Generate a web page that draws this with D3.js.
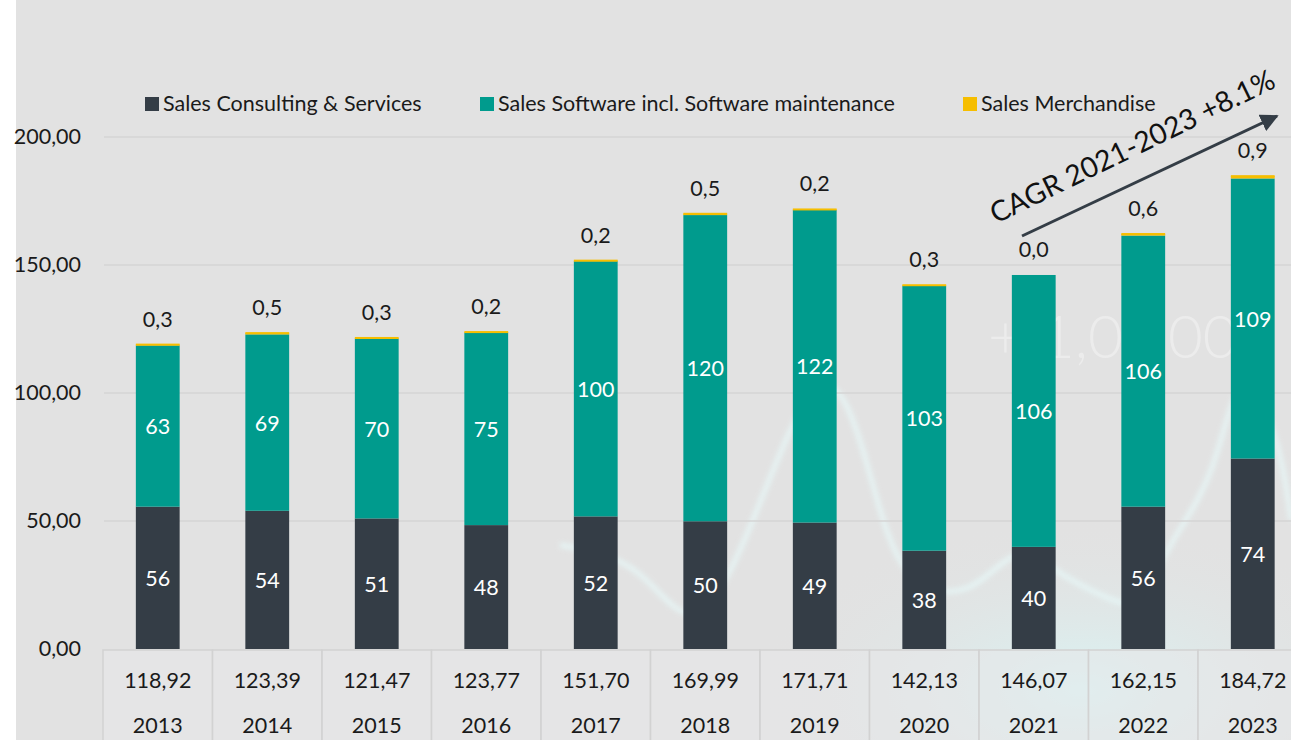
<!DOCTYPE html>
<html>
<head>
<meta charset="utf-8">
<script src="https://cdn.jsdelivr.net/npm/d3@7"></script>
<style>
  body { margin: 0; background: #ffffff; }
  svg { display: block; font-family: "Lato", "Open Sans", sans-serif; }
</style>
</head>
<body>
<div id="vis"></div>
<script>
// Frame
const FRAME_WIDTH = 1291;
const FRAME_HEIGHT = 740;
const FONT = 21.5;

// Data
const YEARS = ["2013", "2014", "2015", "2016", "2017", "2018", "2019", "2020", "2021", "2022", "2023"];
const CONSULTING = [55.6, 54.0, 51.0, 48.4, 51.8, 49.9, 49.4, 38.4, 39.9, 55.6, 74.4];
const SOFTWARE = [63.0, 68.9, 70.2, 75.2, 99.7, 119.6, 122.1, 103.4, 106.2, 105.9, 109.4];
const MERCHANDISE = [0.3, 0.5, 0.3, 0.2, 0.2, 0.5, 0.2, 0.3, 0.0, 0.6, 0.9];
const TOTALS = [118.92, 123.39, 121.47, 123.77, 151.70, 169.99, 171.71, 142.13, 146.07, 162.15, 184.72];
const Y_TICKS = [0, 50, 100, 150, 200];
const SERIES_NAMES = ["Sales Consulting & Services", "Sales Software incl. Software maintenance", "Sales Merchandise"];
const CAGR_LABEL = "CAGR 2021-2023 +8.1%";

const COLORS = ["#343d46", "#009b8d", "#f6be00"];

const LOCALE = d3.formatLocale({decimal: ",", thousands: ".", grouping: [3], currency: ["", ""]});
const fmt2 = LOCALE.format(".2f");
const fmt1 = LOCALE.format(".1f");
const fmt0 = LOCALE.format(".0f");

const svg = d3.select("#vis")
  .append("svg")
    .attr("width", FRAME_WIDTH)
    .attr("height", FRAME_HEIGHT);

const defs = svg.append("defs");
const glow = defs.append("radialGradient").attr("id", "glow");
glow.append("stop").attr("offset", "0%").attr("stop-color", "#d8f6f6").attr("stop-opacity", 0.9);
glow.append("stop").attr("offset", "100%").attr("stop-color", "#e2e2e2").attr("stop-opacity", 0);
defs.append("filter").attr("id", "blur")
  .append("feGaussianBlur").attr("stdDeviation", 2.5);

// background panel (white strip on the left)
svg.append("rect")
  .attr("x", 16).attr("y", 0)
  .attr("width", FRAME_WIDTH - 16).attr("height", FRAME_HEIGHT)
  .attr("fill", "#e2e2e2");

// faint decoration in the background
svg.append("ellipse")
  .attr("cx", 1080).attr("cy", 690).attr("rx", 330).attr("ry", 170)
  .attr("fill", "url(#glow)");

const DECO_LINE = [[560, 545], [640, 560], [690, 640], [740, 560], [790, 420], [835, 360],
  [870, 470], [900, 590], [975, 598], [1015, 540], [1060, 575], [1110, 600], [1140, 610],
  [1170, 540], [1215, 480], [1240, 350], [1280, 440], [1291, 520]];
svg.append("path")
  .attr("d", d3.line().curve(d3.curveBasis)(DECO_LINE))
  .attr("fill", "none")
  .attr("stroke", "#e8fbfb")
  .attr("stroke-width", 5)
  .attr("opacity", 0.7)
  .attr("filter", "url(#blur)");

// faint "+1,000" behind the bars, in pieces
const DECO_TEXT = [["+", 988], ["1,0", 1040], ["00", 1168]];
svg.append("g")
  .selectAll("text")
  .data(DECO_TEXT)
  .enter()
  .append("text")
    .attr("x", d => d[1]).attr("y", 358)
    .attr("font-size", 60)
    .attr("font-weight", 300)
    .attr("fill", "#ffffff")
    .attr("opacity", 0.35)
    .text(d => d[0]);

// scales
const X = d3.scaleBand()
  .domain(YEARS)
  .range([103, 1307.5])
  .paddingInner(0.6)
  .paddingOuter(0.3);

const Y = d3.scaleLinear()
  .domain([0, 200])
  .range([649, 137]);

// gridlines + y axis labels
svg.append("g")
  .selectAll("line")
  .data(Y_TICKS.filter(d => d > 0))
  .enter()
  .append("line")
    .attr("x1", 104).attr("x2", FRAME_WIDTH)
    .attr("y1", d => Y(d)).attr("y2", d => Y(d))
    .attr("stroke", "#d4d4d4")
    .attr("stroke-width", 1.5);

svg.append("g")
  .selectAll("text")
  .data(Y_TICKS)
  .enter()
  .append("text")
    .attr("x", 81)
    .attr("y", d => Y(d) + 7)
    .attr("text-anchor", "end")
    .attr("font-size", FONT)
    .attr("fill", "#1a1a1a")
    .text(d => fmt2(d));

// stacked bars
const rows = YEARS.map((y, i) => ({year: y, c: CONSULTING[i], s: SOFTWARE[i], m: MERCHANDISE[i]}));
const stack = d3.stack().keys(["c", "s", "m"])(rows);

const layers = svg.append("g")
  .selectAll("g")
  .data(stack)
  .enter()
  .append("g")
    .attr("fill", (d, i) => COLORS[i]);

layers.selectAll("rect")
  .data(d => d)
  .enter()
  .append("rect")
    .attr("x", d => X(d.data.year))
    .attr("y", d => Y(d[1]))
    .attr("width", X.bandwidth())
    .attr("height", d => Y(d[0]) - Y(d[1]));

// thin yellow cap so merchandise shows like the original
svg.append("g")
  .selectAll("rect")
  .data(stack[2].filter(d => d.data.m > 0))
  .enter()
  .append("rect")
    .attr("x", d => X(d.data.year))
    .attr("y", d => Y(d[1]) - 1)
    .attr("width", X.bandwidth())
    .attr("height", 2)
    .attr("fill", COLORS[2]);

// value labels inside bars
[0, 1].forEach(k => {
  svg.append("g")
    .selectAll("text")
    .data(stack[k])
    .enter()
    .append("text")
      .attr("x", d => X(d.data.year) + X.bandwidth() / 2)
      .attr("y", d => (Y(d[0]) + Y(d[1])) / 2 + 8)
      .attr("text-anchor", "middle")
      .attr("font-size", FONT)
      .attr("fill", "#ffffff")
      .text(d => fmt0(d[1] - d[0]));
});

// merchandise labels above bars
svg.append("g")
  .selectAll("text")
  .data(stack[2])
  .enter()
  .append("text")
    .attr("x", d => X(d.data.year) + X.bandwidth() / 2)
    .attr("y", d => Y(d[1]) - 18)
    .attr("text-anchor", "middle")
    .attr("font-size", FONT)
    .attr("fill", "#1a1a1a")
    .text(d => fmt1(d.data.m));

// table under the chart
const table = svg.append("g");
table.selectAll("rect")
  .data(YEARS)
  .enter()
  .append("rect")
    .attr("x", d => X(d) - X.step() * 0.3)
    .attr("y", 650)
    .attr("width", X.step())
    .attr("height", 95)
    .attr("fill", "#e7e8e9")
    .attr("fill-opacity", 0.55)
    .attr("stroke", "#d2d2d2")
    .attr("stroke-width", 1.5);

table.selectAll(".total")
  .data(TOTALS)
  .enter()
  .append("text")
    .attr("class", "total")
    .attr("x", (d, i) => X(YEARS[i]) + X.bandwidth() / 2)
    .attr("y", 688)
    .attr("text-anchor", "middle")
    .attr("font-size", FONT)
    .attr("fill", "#1a1a1a")
    .text(d => fmt2(d));

table.selectAll(".year")
  .data(YEARS)
  .enter()
  .append("text")
    .attr("class", "year")
    .attr("x", d => X(d) + X.bandwidth() / 2)
    .attr("y", 733)
    .attr("text-anchor", "middle")
    .attr("font-size", FONT)
    .attr("fill", "#1a1a1a")
    .text(d => d);

// legend
const LEGEND_X = [145, 480, 963];
const legend = svg.append("g")
  .selectAll("g")
  .data(SERIES_NAMES)
  .enter()
  .append("g")
    .attr("transform", (d, i) => "translate(" + LEGEND_X[i] + ",97)");

legend.append("rect")
  .attr("width", 14).attr("height", 14)
  .attr("fill", (d, i) => COLORS[i]);

legend.append("text")
  .attr("x", 18).attr("y", 14)
  .attr("font-size", FONT)
  .attr("fill", "#1a1a1a")
  .text(d => d);

// CAGR arrow
defs.append("marker")
  .attr("id", "head")
  .attr("viewBox", "0 0 10 10")
  .attr("refX", 9).attr("refY", 5)
  .attr("markerWidth", 6).attr("markerHeight", 6)
  .attr("orient", "auto")
  .append("path")
    .attr("d", "M0,0 L10,5 L0,10 Z")
    .attr("fill", "#343d46");

svg.append("line")
  .attr("x1", 1022).attr("y1", 236)
  .attr("x2", 1277).attr("y2", 116)
  .attr("stroke", "#343d46")
  .attr("stroke-width", 3)
  .attr("marker-end", "url(#head)");

svg.append("text")
  .attr("transform", "translate(996,224) rotate(-26)")
  .attr("font-size", 28.5)
  .attr("fill", "#111111")
  .text(CAGR_LABEL);
</script>
</body>
</html>
